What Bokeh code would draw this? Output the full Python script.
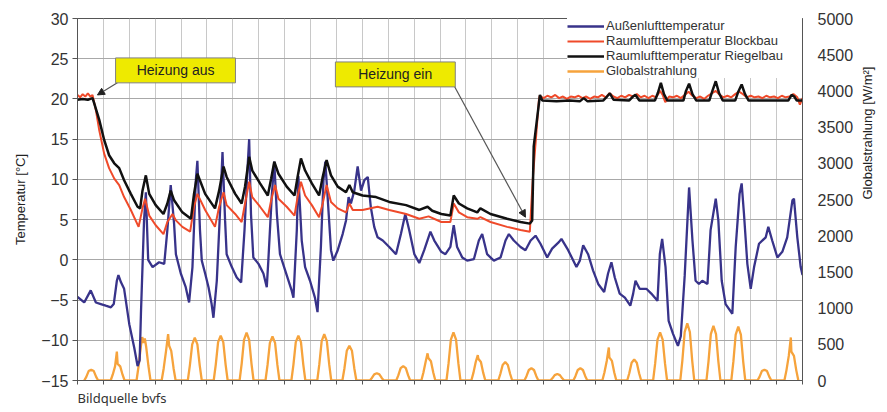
import math
from bokeh.plotting import figure
from bokeh.models import (Range1d, LinearAxis, FixedTicker, Legend, LegendItem,
                          BoxAnnotation, Label, Arrow, NormalHead, Title)
from bokeh.embed import file_html
from bokeh.resources import INLINE

# ---------------- data ----------------
# x = days since start of measurement
aussen_tag = [0, 0.26, 0.51, 0.71, 0.9, 1.09, 1.29, 1.4, 1.52, 1.58, 1.68, 1.8, 2.0, 2.19, 2.32, 2.4, 2.45, 2.57, 2.64,
              2.73, 2.9, 3.15, 3.35, 3.47, 3.6, 3.73, 3.8, 3.99, 4.18, 4.31, 4.44, 4.57, 4.63, 4.73, 4.8, 4.93, 5.06,
              5.18, 5.25, 5.38, 5.5, 5.6, 5.7, 5.76, 5.96, 6.15, 6.32, 6.45, 6.57, 6.63, 6.7, 6.79, 6.99, 7.18, 7.31,
              7.37, 7.5, 7.6, 7.7, 7.82, 8.02, 8.27, 8.34, 8.47, 8.53, 8.66, 8.79, 8.98, 9.17, 9.27, 9.4, 9.5, 9.57,
              9.66, 9.79, 9.88, 10.05, 10.24, 10.37, 10.47, 10.56, 10.69, 10.82, 10.95, 11.08, 11.21, 11.33, 11.46,
              11.59, 11.79, 12.04, 12.3, 12.49, 12.66, 12.81, 13.01, 13.2, 13.39, 13.63, 13.78, 14.05, 14.21, 14.4,
              14.53, 14.66, 14.86, 15.05, 15.31, 15.5, 15.63, 15.82, 16.08, 16.34, 16.53, 16.66, 16.85, 17.11, 17.3,
              17.5, 17.69, 17.88, 18.14, 18.33, 18.59, 18.69, 18.95, 19.27, 19.4, 19.53, 19.72, 19.91, 20.11, 20.34,
              20.49, 20.62, 20.75, 20.94, 21.14, 21.35, 21.46, 21.55, 21.71, 21.97, 22.16, 22.4, 22.49, 22.58, 22.71,
              22.83, 23.0, 23.19, 23.3, 23.45, 23.62, 23.75, 23.87, 24.0, 24.13, 24.33, 24.45, 24.65, 24.75, 24.88,
              25.03, 25.29, 25.42, 25.57, 25.65, 25.74, 25.87, 26.0, 26.13, 26.32, 26.58, 26.68, 26.83, 27.03, 27.22,
              27.41, 27.61, 27.67, 27.8, 27.93, 28.0]
aussen_temp = [-4.6, -5.3, -3.8, -5.3, -5.5, -5.7, -5.9, -5.5, -2.6, -1.9, -2.8, -3.6, -8.0, -10.9, -13.2, -12.5, -6.7,
               4.9, 8.4, 0.0, -0.9, -0.3, -0.5, 3.7, 9.3, 4.5, 0.7, -1.7, -3.4, -5.3, -0.9, 9.9, 12.3, 3.7, -0.1, -1.7,
               -3.4, -5.5, -7.2, -2.6, 5.7, 13.4, 4.9, 0.7, -0.9, -2.2, -2.8, 3.7, 11.6, 15.0, 5.7, 0.3, -0.5, -1.7,
               -3.4, -0.1, 7.8, 12.2, 5.7, 0.7, -1.3, -3.8, -4.7, 3.7, 10.4, 2.4, -0.9, -2.6, -4.7, -6.5, 1.6, 9.9,
               12.2, 7.8, 1.2, -0.1, 1.2, 3.2, 4.9, 7.8, 7.0, 8.6, 11.6, 8.6, 9.9, 10.3, 6.5, 4.1, 2.8, 2.4, 1.6, 0.7,
               3.2, 5.7, 3.7, 0.7, -0.4, 1.2, 3.5, 2.4, 1.0, 0.7, 1.6, 4.3, 1.6, 0.3, -0.1, 0.1, 2.4, 3.2, 0.7, -0.1,
               0.3, 2.4, 3.2, 2.4, 1.6, 1.2, 2.4, 3.0, 2.0, 0.3, 1.4, 2.2, 2.6, 1.2, -0.9, -0.1, 1.8, 0.7, -1.3, -3.0,
               -4.0, -1.7, -0.3, -2.2, -4.2, -4.7, -5.7, -4.2, -2.6, -3.6, -3.6, -4.2, -5.1, 0.7, 2.6, -0.9, -7.6,
               -9.2, -10.7, -9.5, -2.0, 9.0, 2.4, -2.6, -3.0, -2.6, -3.0, 3.7, 7.6, 4.9, -2.6, -5.5, -6.7, 1.6, 8.2,
               9.5, 5.7, -0.5, -3.6, -0.9, 2.0, 2.8, 4.1, 2.4, 0.3, 1.0, 2.8, 7.4, 7.6, 2.8, -0.9, -1.9]

block_tag = [0, 0.1, 0.2, 0.3, 0.4, 0.5, 0.58, 0.71, 0.84, 1.03, 1.22, 1.42, 1.61, 1.8, 2.06, 2.36, 2.51, 2.61, 2.77,
             3.02, 3.32, 3.47, 3.67, 3.8, 4.05, 4.35, 4.5, 4.63, 4.93, 5.31, 5.47, 5.64, 5.76, 6.09, 6.34, 6.47, 6.63,
             6.75, 7.05, 7.35, 7.48, 7.63, 7.76, 8.08, 8.38, 8.5, 8.63, 8.79, 9.05, 9.33, 9.47, 9.62, 9.79, 10.05,
             10.37, 10.5, 10.63, 11.01, 11.59, 12.04, 12.69, 13.2, 13.56, 14.05, 14.4, 14.53, 14.73, 15.05, 15.44,
             15.56, 15.95, 16.59, 17.11, 17.47, 17.58, 17.82, 17.85, 18.0, 18.15, 18.3, 18.45, 18.6, 18.75, 18.9,
             19.05, 19.2, 19.35, 19.5, 19.65, 19.8, 19.95, 20.1, 20.25, 20.4, 20.55, 20.7, 20.85, 21.0, 21.15, 21.3,
             21.45, 21.6, 21.75, 21.9, 22.05, 22.2, 22.35, 22.5, 22.6, 22.7, 22.85, 23.0, 23.15, 23.3, 23.45, 23.6,
             23.75, 23.9, 24.05, 24.2, 24.35, 24.5, 24.65, 24.8, 24.95, 25.1, 25.25, 25.4, 25.55, 25.7, 25.85, 26.0,
             26.15, 26.3, 26.45, 26.6, 26.75, 26.9, 27.05, 27.2, 27.35, 27.5, 27.65, 27.8, 27.9, 28.0]
block_temp = [20.5, 20.2, 20.6, 20.3, 20.7, 20.3, 20.5, 18.6, 16.1, 13.2, 11.4, 10.1, 9.3, 7.8, 6.2, 4.1, 6.4, 7.6,
              5.5, 4.3, 3.2, 4.7, 5.7, 4.9, 4.1, 3.5, 6.6, 8.2, 6.2, 4.1, 6.6, 8.4, 6.8, 5.7, 4.7, 7.0, 9.7, 7.8,
              6.6, 5.3, 7.4, 9.3, 7.6, 6.6, 5.5, 7.8, 9.7, 8.0, 6.8, 5.3, 7.0, 9.3, 7.2, 6.4, 5.9, 7.0, 6.2, 6.2,
              6.6, 6.2, 5.7, 5.1, 5.4, 4.7, 4.7, 7.0, 5.9, 5.3, 5.1, 5.3, 4.7, 4.1, 3.7, 3.5, 9.9, 19.9, 20.4, 20.1,
              20.4, 20.2, 20.5, 20.1, 20.3, 20.0, 20.3, 20.2, 20.4, 20.1, 20.3, 20.0, 20.3, 20.2, 20.5, 20.2, 20.7,
              20.3, 20.1, 20.4, 20.2, 20.5, 20.3, 20.6, 20.2, 20.4, 20.1, 20.4, 20.2, 21.0, 20.5, 19.6, 20.3, 20.2,
              20.4, 20.1, 20.5, 20.9, 20.4, 20.1, 20.3, 20.0, 20.4, 20.7, 21.0, 20.5, 20.2, 20.4, 20.2, 20.6, 20.9,
              20.6, 20.2, 20.4, 20.2, 20.3, 20.1, 20.4, 20.2, 20.3, 20.1, 20.4, 20.2, 20.3, 20.6, 20.2, 19.3, 20.1]

riegel_tag = [0, 0.2, 0.4, 0.58, 0.64, 0.84, 1.03, 1.22, 1.42, 1.61, 1.8, 2.06, 2.32, 2.42, 2.51, 2.64, 2.77, 3.02,
              3.32, 3.47, 3.6, 3.73, 4.05, 4.38, 4.5, 4.63, 4.93, 5.31, 5.47, 5.64, 5.76, 6.09, 6.34, 6.47, 6.63,
              6.75, 7.05, 7.35, 7.48, 7.6, 7.76, 8.08, 8.38, 8.5, 8.63, 8.79, 9.05, 9.33, 9.47, 9.62, 9.79, 10.05,
              10.37, 10.5, 10.63, 11.01, 11.53, 12.04, 12.69, 13.2, 13.52, 13.7, 14.05, 14.4, 14.53, 14.73, 15.05,
              15.44, 15.56, 15.95, 16.59, 17.11, 17.47, 17.56, 17.62, 17.86, 17.95, 18.5, 19.0, 19.4, 19.55, 19.7,
              20.3, 20.45, 20.56, 20.7, 21.3, 21.45, 21.55, 21.7, 22.3, 22.42, 22.53, 22.65, 22.78, 23.4, 23.5,
              23.62, 23.75, 23.9, 24.4, 24.52, 24.65, 24.78, 24.92, 25.4, 25.52, 25.65, 25.78, 25.92, 27.45, 27.58,
              27.68, 27.78, 28.0]
riegel_temp = [19.9, 20.0, 19.9, 20.1, 19.5, 17.4, 14.9, 13.0, 12.0, 11.4, 9.9, 8.2, 6.6, 6.4, 8.6, 10.5, 8.2, 6.8,
               5.7, 7.0, 8.6, 7.4, 5.9, 5.1, 8.2, 10.7, 8.2, 6.4, 8.6, 11.6, 10.3, 8.2, 7.0, 9.1, 12.8, 11.1, 9.5,
               8.0, 10.1, 12.2, 10.7, 9.1, 8.0, 10.3, 12.6, 11.1, 9.5, 8.0, 10.3, 12.4, 10.5, 9.1, 8.4, 9.3, 8.4,
               8.0, 7.8, 7.2, 6.8, 6.2, 6.6, 6.1, 5.7, 5.5, 8.0, 7.0, 6.4, 5.9, 6.4, 5.7, 5.1, 4.7, 4.5, 4.9, 14.1,
               20.5, 19.8, 19.7, 19.8, 19.7, 20.1, 19.7, 19.8, 20.3, 20.7, 19.9, 19.8, 20.3, 20.5, 19.8, 19.8, 20.8,
               22.0, 20.6, 19.8, 19.8, 21.0, 21.9, 20.6, 19.8, 19.8, 21.0, 22.2, 20.7, 19.8, 19.8, 20.9, 21.8, 20.6,
               19.8, 19.8, 20.5, 20.3, 19.8, 19.8]

sonne_tag = [0.26, 0.34, 0.43, 0.53, 0.63, 0.72, 0.80,
             1.28, 1.36, 1.45, 1.52, 1.55, 1.65, 1.74, 1.82,
             2.28, 2.36, 2.45, 2.50, 2.55, 2.60, 2.65, 2.74, 2.82,
             3.25, 3.33, 3.42, 3.50, 3.54, 3.62, 3.71, 3.79,
             4.26, 4.34, 4.43, 4.53, 4.63, 4.72, 4.80,
             5.26, 5.34, 5.43, 5.53, 5.63, 5.72, 5.80,
             6.26, 6.34, 6.43, 6.53, 6.63, 6.72, 6.80,
             7.26, 7.34, 7.43, 7.53, 7.63, 7.72, 7.80,
             8.26, 8.34, 8.43, 8.53, 8.63, 8.72, 8.80,
             9.26, 9.34, 9.43, 9.53, 9.63, 9.72, 9.80,
             10.23, 10.31, 10.40, 10.50, 10.60, 10.69, 10.77,
             11.29, 11.37, 11.46, 11.56, 11.66, 11.75, 11.83,
             12.31, 12.39, 12.48, 12.58, 12.68, 12.77, 12.85,
             13.28, 13.36, 13.45, 13.52, 13.55, 13.65, 13.74, 13.82,
             14.25, 14.33, 14.42, 14.52, 14.62, 14.71, 14.79,
             15.21, 15.29, 15.38, 15.46, 15.48, 15.58, 15.67, 15.75,
             16.25, 16.33, 16.42, 16.52, 16.62, 16.71, 16.79,
             17.26, 17.34, 17.43, 17.53, 17.63, 17.72, 17.80,
             18.26, 18.34, 18.43, 18.53, 18.63, 18.72, 18.80,
             19.15, 19.23, 19.32, 19.42, 19.52, 19.61, 19.69,
             20.27, 20.35, 20.44, 20.52, 20.54, 20.64, 20.73, 20.81,
             21.23, 21.31, 21.40, 21.50, 21.60, 21.69, 21.77,
             22.23, 22.31, 22.40, 22.50, 22.60, 22.69, 22.77,
             23.28, 23.36, 23.45, 23.55, 23.65, 23.74, 23.82,
             24.29, 24.37, 24.46, 24.56, 24.66, 24.75, 24.83,
             25.25, 25.33, 25.42, 25.52, 25.62, 25.71, 25.79,
             26.26, 26.34, 26.43, 26.53, 26.63, 26.72, 26.80,
             27.30, 27.38, 27.47, 27.55, 27.57, 27.67, 27.76, 27.84]
sonne_wm2 = [0, 50, 130, 150, 130, 50, 0,
             0, 80, 195, 400, 230, 195, 80, 0,
             0, 200, 480, 600, 520, 580, 470, 200, 0,
             0, 170, 410, 640, 480, 410, 170, 0,
             0, 210, 500, 590, 500, 210, 0,
             0, 220, 530, 620, 530, 220, 0,
             0, 230, 560, 660, 560, 230, 0,
             0, 215, 520, 610, 520, 215, 0,
             0, 220, 530, 620, 530, 220, 0,
             0, 225, 545, 640, 545, 225, 0,
             0, 170, 410, 480, 410, 170, 0,
             0, 35, 85, 100, 85, 35, 0,
             0, 70, 170, 200, 170, 70, 0,
             0, 110, 265, 375, 310, 265, 110, 0,
             0, 235, 565, 665, 565, 235, 0,
             0, 105, 255, 350, 300, 255, 105, 0,
             0, 90, 215, 255, 215, 90, 0,
             0, 60, 145, 170, 145, 60, 0,
             0, 30, 75, 90, 75, 30, 0,
             0, 60, 145, 170, 145, 60, 0,
             0, 110, 270, 456, 320, 270, 110, 0,
             0, 100, 245, 290, 245, 100, 0,
             0, 235, 565, 665, 565, 235, 0,
             0, 275, 670, 790, 670, 275, 0,
             0, 265, 640, 755, 640, 265, 0,
             0, 260, 635, 745, 635, 260, 0,
             0, 50, 130, 150, 130, 50, 0,
             0, 140, 340, 594, 400, 340, 140, 0]

temp_ticks = [-15, -10, -5, 0, 5, 10, 15, 20, 25, 30]
strahlung_ticks = [0, 500, 1000, 1500, 2000, 2500, 3000, 3500, 4000, 4500, 5000]
tag_ticks = list(range(0, 29))

serien_namen = ["Außenlufttemperatur", "Raumlufttemperatur Blockbau",
                "Raumlufttemperatur Riegelbau", "Globalstrahlung"]

# ---------------- figure ----------------
FONT = "Liberation Sans"
TXT = "#333333"

p = figure(width=887, height=412, x_range=Range1d(0, 28), y_range=Range1d(-15, 30),
           output_backend="svg", toolbar_location=None,
           min_border_left=77, min_border_right=85, min_border_top=18, min_border_bottom=32)
p.extra_y_ranges = {"sun": Range1d(0, 5000)}
p.background_fill_color = "white"
p.border_fill_color = "white"
p.outline_line_color = "#555555"
p.outline_line_width = 1

# grids
p.xgrid.ticker = FixedTicker(ticks=tag_ticks)
p.xgrid.grid_line_color = "#c8c8c8"
p.ygrid.ticker = FixedTicker(ticks=temp_ticks)
p.ygrid.grid_line_color = "#a8a8a8"

# bottom axis (days, no labels)
xa = p.xaxis[0]
xa.ticker = FixedTicker(ticks=tag_ticks)
xa.major_label_overrides = {t: "" for t in tag_ticks}
xa.major_label_text_font_size = "1px"
xa.major_label_standoff = 0
xa.major_tick_out = 4
xa.major_tick_in = 0
xa.minor_tick_line_color = None
xa.axis_line_color = "#555555"
xa.major_tick_line_color = "#555555"

# left axis
ya = p.yaxis[0]
ya.ticker = FixedTicker(ticks=temp_ticks)
ya.axis_label = "Temperatur [°C]"
ya.axis_label_text_font = FONT
ya.axis_label_text_font_style = "normal"
ya.axis_label_text_font_size = "13px"
ya.axis_label_text_color = "#222222"
ya.axis_label_standoff = 10
ya.major_label_text_font = FONT
ya.major_label_text_font_size = "16px"
ya.major_label_text_color = TXT
ya.major_label_standoff = 4
ya.major_tick_out = 5
ya.major_tick_in = 0
ya.minor_tick_line_color = None
ya.axis_line_color = "#555555"
ya.major_tick_line_color = "#555555"

# right axis
ra = LinearAxis(y_range_name="sun", ticker=FixedTicker(ticks=strahlung_ticks))
ra.axis_label = "Globalstrahlung [W/m²]"
ra.axis_label_text_font = FONT
ra.axis_label_text_font_style = "normal"
ra.axis_label_text_font_size = "13px"
ra.axis_label_text_color = "#222222"
ra.axis_label_standoff = 11
try:
    ra.axis_label_orientation = math.pi / 2
except Exception:
    pass
ra.major_label_text_font = FONT
ra.major_label_text_font_size = "16px"
ra.major_label_text_color = TXT
ra.major_label_standoff = 15
ra.major_tick_out = 0
ra.major_tick_in = 0
ra.minor_tick_line_color = None
ra.axis_line_color = "#555555"
p.add_layout(ra, "right")

# source note below the chart
p.add_layout(Title(text="Bildquelle bvfs", align="left", text_font="Noto Sans",
                   text_font_size="13px", text_font_style="normal", text_color="#333333",
                   standoff=4, offset=0), "below")

# ---------------- series ----------------
C_BLUE = "#38338a"
C_RED = "#ef4a2a"
C_BLACK = "#111111"
C_ORANGE = "#f6a33c"

r_sun = p.line(sonne_tag, sonne_wm2, y_range_name="sun", line_color=C_ORANGE, line_width=2.3)
r_out = p.line(aussen_tag, aussen_temp, line_color=C_BLUE, line_width=2.3)
r_block = p.line(block_tag, block_temp, line_color=C_RED, line_width=2)
r_riegel = p.line(riegel_tag, riegel_temp, line_color=C_BLACK, line_width=2.5)

legend = Legend(items=[LegendItem(label=serien_namen[0], renderers=[r_out]),
                       LegendItem(label=serien_namen[1], renderers=[r_block]),
                       LegendItem(label=serien_namen[2], renderers=[r_riegel]),
                       LegendItem(label=serien_namen[3], renderers=[r_sun])],
                location="top_right", margin=0, padding=2, spacing=0,
                glyph_width=37, glyph_height=14, label_height=14, label_width=196,
                label_standoff=2, label_text_font=FONT, label_text_font_size="13px",
                label_text_color=TXT, background_fill_color="white", background_fill_alpha=1,
                border_line_color=None)
p.add_layout(legend)

# ---------------- annotations ----------------
box_fill = "#eeea00"
box_line = "#808080"
ann_aus = dict(left=1.47, right=6.1, bottom=22.0, top=25.1, tx=3.79, ty=23.55,
               ax0=1.54, ay0=22.0, ax1=0.77, ay1=20.5, text="Heizung aus")
ann_ein = dict(left=9.96, right=14.59, bottom=21.5, top=24.6, tx=12.27, ty=23.05,
               ax0=14.55, ay0=21.6, ax1=17.3, ay1=5.3, text="Heizung ein")
for a in (ann_aus, ann_ein):
    p.add_layout(Arrow(end=NormalHead(size=7, fill_color="#222222", line_color="#222222"),
                       x_start=a["ax0"], y_start=a["ay0"], x_end=a["ax1"], y_end=a["ay1"],
                       line_color="#555555", line_width=1.2, level="annotation"))
    p.add_layout(BoxAnnotation(left=a["left"], right=a["right"], bottom=a["bottom"], top=a["top"],
                               fill_color=box_fill, fill_alpha=1, line_color=box_line, line_width=1,
                               line_alpha=1, level="annotation"))
    p.add_layout(Label(x=a["tx"], y=a["ty"], text=a["text"], text_align="center",
                       text_baseline="middle", text_font=FONT, text_font_size="14px",
                       text_color="#222222", level="overlay"))

open("out.html", "w").write(file_html(p, INLINE))
